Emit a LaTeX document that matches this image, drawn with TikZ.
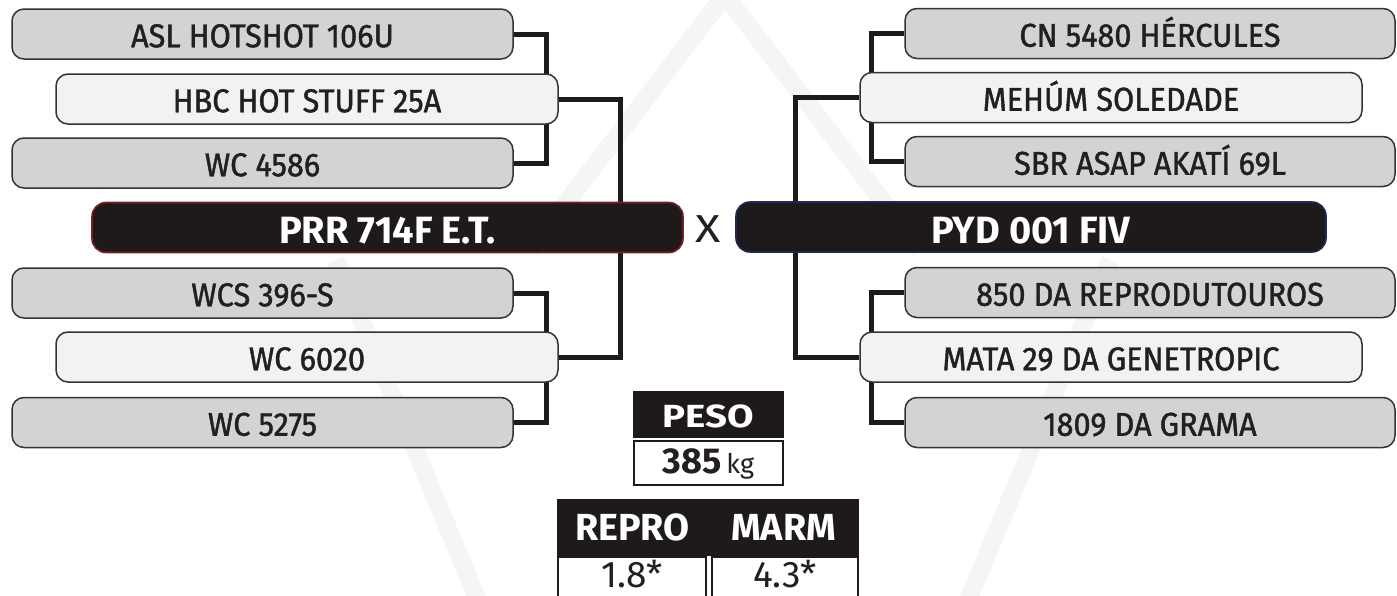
\documentclass[tikz,border=0pt]{standalone}
\usepackage{fontspec}
\setmainfont{Fira Sans}
\newfontfamily\namefont{Fira Sans}[FakeStretch=0.93,FakeBold=1.3]
\newfontfamily\mainfont{Fira Sans}[FakeStretch=1.0]
\newfontfamily\hdfont{Fira Sans}
\usetikzlibrary{backgrounds}
\definecolor{grayc}{HTML}{D1D3D4}
\definecolor{lightc}{HTML}{F1F2F3}
\definecolor{bordc}{HTML}{333333}
\definecolor{blackc}{HTML}{1E1A1B}
\definecolor{redb}{HTML}{7A1F26}
\definecolor{blueb}{HTML}{1E2856}
\definecolor{txtc}{HTML}{231F20}
\definecolor{wmc}{HTML}{F5F5F5}
\begin{document}
\begin{tikzpicture}[x=1pt,y=-1pt,
  gbox/.style={draw=bordc, line width=1.5pt, fill=grayc, rounded corners=12pt,
    minimum width=501pt, minimum height=50pt, inner sep=0pt,
    text height=26.5pt, text depth=0pt, text=txtc,
    font=\namefont\fontsize{33}{33}\selectfont},
  lbox/.style={gbox, fill=lightc, minimum width=502pt},
  rbox/.style={gbox, minimum width=490pt},
  mainbox/.style={fill=blackc, line width=1.6pt, rounded corners=14pt,
    minimum width=591pt, minimum height=50pt, inner sep=0pt,
    text height=32pt, text depth=0pt, text=white,
    font=\mainfont\bfseries\fontsize{38}{38}\selectfont},
  conn/.style={line width=5pt, draw=blackc},
  wm/.style={line width=18pt, draw=wmc},
  hdcell/.style={fill=blackc, inner sep=0pt, text=white,
    font=\hdfont\bfseries\fontsize{37.7}{37.7}\selectfont,
    text height=26pt, text depth=0pt},
  valcell/.style={fill=white, inner sep=0pt,
    text=txtc, font=\hdfont\fontsize{37}{37}\selectfont,
    text height=25pt, text depth=0pt},
  valline/.style={draw=blackc, line width=2pt}
]
\useasboundingbox (0,0) rectangle (1397,595);
\clip (0,0) rectangle (1397,595);

% left side
\node[gbox] (asl) at (262.5,34) {ASL HOTSHOT 106U};
\node[lbox] (hbc) at (307,99) {HBC HOT STUFF 25A};
\node[gbox] (wca) at (262.5,163) {WC 4586};
\node[mainbox, draw=redb] (prr) at (387.5,227.5) {PRR 714F E.T.};
\node[gbox] (wcs) at (262.5,293) {WCS 396-S};
\node[lbox] (wcb) at (307,357) {WC 6020};
\node[gbox] (wcc) at (262.5,422.5) {WC 5275};

% centre
\node[text=txtc, font=\hdfont\fontsize{39}{39}\selectfont, inner sep=0pt,
  text height=30pt, text depth=0pt] (x) at (708.5,227.5) {\scalebox{1.2}[1]{X}};

% right side
\node[rbox] (cn) at (1150,33.5) {CN 5480 HÉRCULES};
\node[lbox] (meh) at (1111,97.5) {MEHÚM SOLEDADE};
\node[rbox] (sbr) at (1150,161.5) {SBR ASAP AKATÍ 69L};
\node[mainbox, draw=blueb, minimum width=590pt] (pyd) at (1031,227) {PYD 001 FIV};
\node[rbox] (rep) at (1150,292.5) {850 DA REPRODUTOUROS};
\node[lbox] (mata) at (1111,357) {MATA 29 DA GENETROPIC};
\node[rbox] (gra) at (1150,422.5) {1809 DA GRAMA};

% peso
\node[hdcell, minimum width=151pt, minimum height=47pt, text height=25pt,
  font=\hdfont\bfseries\fontsize{32}{32}\selectfont] (pesoh) at (708.5,414.5)
  {\scalebox{1.2}[1]{PESO}};
\node[fill=white, draw=blackc, line width=2pt, inner sep=0pt, text=txtc,
  minimum width=149pt, minimum height=44pt, text height=25pt,
  text depth=5pt, font=\hdfont\fontsize{27}{27}\selectfont] (pesov) at (708.5,463)
  {{\bfseries\fontsize{36}{36}\selectfont 385}\,kg};

% repro / marm
\node[hdcell, minimum width=151pt, minimum height=57pt] (reproh) at (632.5,527.5) {REPRO};
\node[hdcell, minimum width=151pt, minimum height=57pt] (marmh) at (783.5,527.5) {MARM};
\node[valcell, minimum width=148pt, minimum height=36pt] (reprov) at (632,575) {1.8*};
\node[valcell, minimum width=146pt, minimum height=36pt] (marmv) at (785,575) {4.3*};
\draw[valline] (reprov.north west) rectangle ++(148,60);
\draw[valline] (marmv.north west) rectangle ++(146,60);

\begin{pgfonlayer}{background}
  \fill[white] (0,0) rectangle (1397,595);
  % faint watermark
  \draw[wm] (530,250) -- (725,-5) -- (920,250);
  \draw[wm] (336,260) -- (482,610);
  \draw[wm] (1110,260) -- (964,610);
  % connectors
  \draw[conn] (asl.east) -- ++(33,0) |- (wca.east);
  \draw[conn] (hbc.east) -- ++(62,0) |- (wcb.east);
  \draw[conn] (wcs.east) -- ++(33,0) |- (wcc.east);
  \draw[conn] (cn.west) -- ++(-33,0) |- (sbr.west);
  \draw[conn] (meh.west) -- ++(-64,0) |- (mata.west);
  \draw[conn] (rep.west) -- ++(-33,0) |- (gra.west);
\end{pgfonlayer}
\end{tikzpicture}
\end{document}
